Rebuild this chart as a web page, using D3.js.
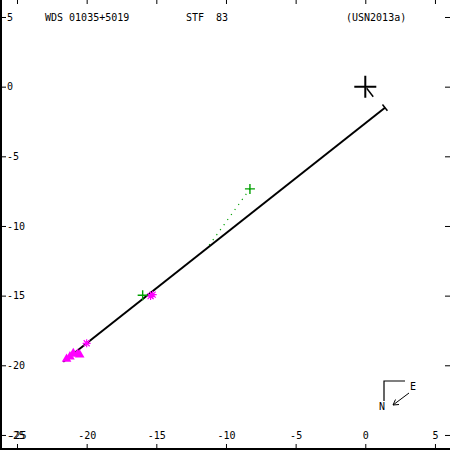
<!DOCTYPE html>
<html>
<head>
<meta charset="utf-8">
<script src="https://cdn.jsdelivr.net/npm/d3@7"></script>
<style>
  body { margin: 0; background: #fff; }
  svg { display: block; }
  text { font-family: "DejaVu Sans Mono", monospace; font-size: 10px; fill: #000; }
</style>
</head>
<body>
<div id="chart"></div>
<script>
// data (arcsec)
const xTicks = [-25, -20, -15, -10, -5, 0, 5];
const yTicks = [5, 0, -5, -10, -15, -20, -25];
const titleLeft = "WDS 01035+5019";
const titleMid = "STF  83";
const titleRight = "(USN2013a)";

// measures
const plusPts = [[-8.28, -7.34], [-15.98, -14.97]];
const starPts = [[-15.41, -15.03], [-15.26, -14.93], [-20.0, -18.42]];
const triPts = [[-20.65, -19.19], [-20.96, -19.14], [-21.2, -19.38], [-21.44, -19.55], [-20.5, -19.25]];

// linear fit and O-C residual
const fitLine = [[-21.68, -19.74], [1.41, -1.51]];
const ocLines = [[[-8.28, -7.34], [-11.36, -11.59]]];
const originMark = [[0.1, -0.12], [0.57, -0.72]];

const width = 450;
const height = 450;

// 13.93 px per arcsec, origin at (365.3, 86.7)
const x = d3.scaleLinear().domain([-26.22, 6.08]).range([0, width]);
const y = d3.scaleLinear().domain([6.22, -26.08]).range([0, height]);

const svg = d3.select('#chart').append('svg')
  .attr('width', width)
  .attr('height', height);

svg.append('rect').attr('width', width).attr('height', height).attr('fill', '#fff');

const fmt = d => String(d);

// axes: ticks on all four sides, labels on left and bottom only
const gLeft = svg.append('g').attr('class', 'lab')
  .call(d3.axisRight(y).tickValues(yTicks).tickSize(6).tickPadding(1).tickFormat(fmt));

const gBottom = svg.append('g').attr('class', 'lab').attr('transform', `translate(0,${height})`)
  .call(d3.axisTop(x).tickValues(xTicks).tickSize(6).tickPadding(5).tickFormat(fmt));

const gTop = svg.append('g')
  .call(d3.axisBottom(x).tickValues(xTicks).tickSize(4).tickFormat(''));
const gRight = svg.append('g').attr('transform', `translate(${width},0)`)
  .call(d3.axisLeft(y).tickValues(yTicks).tickSize(5).tickFormat(''));

gTop.selectAll('text').remove();
gRight.selectAll('text').remove();
svg.selectAll('.domain').remove();
svg.selectAll('.tick line').attr('stroke', '#000').attr('stroke-width', 1);
svg.selectAll('.lab .tick text')
  .style('font-family', '"DejaVu Sans Mono", monospace')
  .style('font-size', '10px');

// frame: left and bottom edges
svg.append('line').attr('x1', 1).attr('x2', 1).attr('y1', 0).attr('y2', height)
  .attr('stroke', '#000').attr('stroke-width', 2);
svg.append('line').attr('x1', 0).attr('x2', width).attr('y1', height - 1).attr('y2', height - 1)
  .attr('stroke', '#000').attr('stroke-width', 2);

// title texts
svg.append('text').attr('x', 45).attr('y', 21).text(titleLeft);
svg.append('text').attr('x', 186).attr('y', 21).style('white-space', 'pre').text(titleMid);
svg.append('text').attr('x', 346).attr('y', 21).text(titleRight);

// primary star cross at origin
const cx = x(0), cy = y(0);
svg.append('path')
  .attr('d', `M${cx - 11},${cy}H${cx + 11}M${cx},${cy - 11}V${cy + 11}`)
  .attr('stroke', '#000').attr('stroke-width', 2).attr('fill', 'none');
svg.append('line')
  .attr('x1', x(originMark[0][0])).attr('y1', y(originMark[0][1]))
  .attr('x2', x(originMark[1][0])).attr('y2', y(originMark[1][1]))
  .attr('stroke', '#000').attr('stroke-width', 1.5);

// O-C dotted lines
svg.selectAll('.oc').data(ocLines).join('line')
  .attr('class', 'oc')
  .attr('x1', d => x(d[0][0])).attr('y1', d => y(d[0][1]))
  .attr('x2', d => x(d[1][0])).attr('y2', d => y(d[1][1]))
  .attr('stroke', '#00a000').attr('stroke-width', 1.2)
  .attr('stroke-dasharray', '1.2,5');

// fit line with an end tick
const line = d3.line().x(d => x(d[0])).y(d => y(d[1]));
svg.append('path').attr('d', line(fitLine))
  .attr('stroke', '#000').attr('stroke-width', 2).attr('fill', 'none');
const ex = x(fitLine[1][0]), ey = y(fitLine[1][1]);
const dx = ex - x(fitLine[0][0]), dy = ey - y(fitLine[0][1]);
const len = Math.hypot(dx, dy);
const nx = -dy / len, ny = dx / len;
svg.append('line')
  .attr('x1', ex - 4 * nx).attr('y1', ey - 4 * ny)
  .attr('x2', ex + 4 * nx).attr('y2', ey + 4 * ny)
  .attr('stroke', '#000').attr('stroke-width', 1.5);

// magenta triangles
svg.selectAll('.tri').data(triPts).join('path')
  .attr('class', 'tri')
  .attr('transform', d => `translate(${x(d[0])},${y(d[1])})`)
  .attr('d', d3.symbol(d3.symbolTriangle, 40))
  .attr('fill', '#ff00ff');

// magenta asterisks
const starPath = 'M-4,0H4M0,-4V4M-3,-3L3,3M-3,3L3,-3';
svg.selectAll('.star').data(starPts).join('path')
  .attr('class', 'star')
  .attr('transform', d => `translate(${x(d[0])},${y(d[1])})`)
  .attr('d', starPath)
  .attr('stroke', '#ff00ff').attr('stroke-width', 1.2).attr('fill', 'none');

// green plus signs
svg.selectAll('.plus').data(plusPts).join('path')
  .attr('class', 'plus')
  .attr('transform', d => `translate(${x(d[0])},${y(d[1])})`)
  .attr('d', 'M-5,0H5M0,-5V5')
  .attr('stroke', '#00a000').attr('stroke-width', 1.4).attr('fill', 'none');

// compass and motion arrow
const compass = svg.append('g').attr('stroke', '#000').attr('fill', 'none');
compass.append('path').attr('d', 'M405,381H384V401').attr('stroke-width', 1.2);
compass.append('path').attr('d', 'M409,393L393,405M393,405L399,404.5M393,405L395.5,399.5').attr('stroke-width', 1);
svg.append('text').attr('x', 410).attr('y', 390).text('E');
svg.append('text').attr('x', 379).attr('y', 410).text('N');
</script>
</body>
</html>
